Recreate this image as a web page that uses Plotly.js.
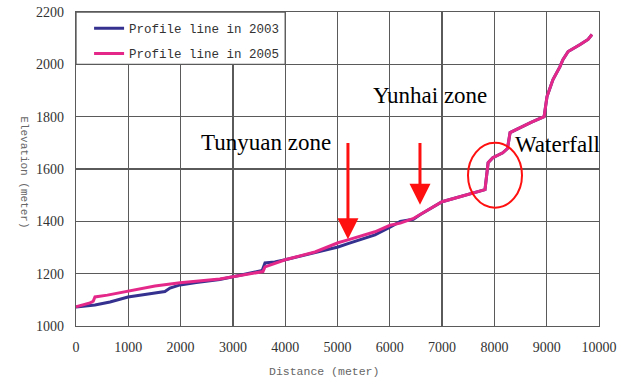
<!DOCTYPE html>
<html>
<head>
<meta charset="utf-8">
<script src="https://cdn.plot.ly/plotly-3.0.1.min.js"></script>
<style>html,body{margin:0;padding:0;background:#fff;}#chart{width:627px;height:381px;}</style>
</head>
<body>
<div id="chart"></div>
<script>
// Distance (m) and elevation (m)
const dist2003 = [0, 200, 363, 650, 994, 1510, 1700, 1797, 1990, 2300, 2750, 3000, 3480, 3560, 3614, 3800, 4000, 4570, 5010, 5200, 5717, 6004, 6200, 6450, 6500, 6577, 7000, 7340, 7820, 7880, 7970, 8160, 8250, 8300, 8500, 8700, 8950, 9006, 9120, 9254, 9310, 9410, 9640, 9790, 9866];
const elev2003 = [1073, 1076, 1080, 1092, 1111, 1126, 1132, 1145, 1157, 1166, 1178, 1188, 1207, 1212, 1241, 1245, 1253, 1279, 1302, 1315, 1348, 1378, 1400, 1408, 1415, 1425, 1475, 1494, 1521, 1624, 1643, 1662, 1678, 1739, 1760, 1778, 1800, 1877, 1942, 1991, 2018, 2049, 2076, 2095, 2114];

const dist2005 = [0, 150, 268, 330, 363, 600, 994, 1510, 1990, 2400, 2750, 3000, 3480, 3575, 3614, 3800, 4000, 4570, 5010, 5200, 5717, 6004, 6200, 6443, 6577, 7000, 7340, 7820, 7880, 7970, 8160, 8250, 8300, 8500, 8700, 8950, 9006, 9120, 9254, 9310, 9410, 9640, 9790, 9866];
const elev2005 = [1073, 1080, 1088, 1095, 1111, 1118, 1134, 1153, 1165, 1172, 1180, 1188, 1205, 1208, 1226, 1240, 1253, 1283, 1318, 1329, 1360, 1385, 1393, 1410, 1425, 1475, 1494, 1521, 1624, 1643, 1662, 1678, 1739, 1760, 1778, 1800, 1877, 1942, 1991, 2018, 2049, 2076, 2095, 2114];

const seriesNames = ["Profile line in 2003", "Profile line in 2005"];
const xTicks = [0, 1000, 2000, 3000, 4000, 5000, 6000, 7000, 8000, 9000, 10000];
const yTicks = [1000, 1200, 1400, 1600, 1800, 2000, 2200];

const zoneLabels = ["Tunyuan zone", "Yunhai zone", "Waterfall"];

const traces = [
  {x: dist2003, y: elev2003, mode: "lines", name: seriesNames[0], legendgroup: "a",
   line: {color: "#34318f", width: 3}},
  {x: dist2005, y: elev2005, mode: "lines", name: seriesNames[1], legendgroup: "b",
   line: {color: "#e4288a", width: 3}}
];

const monoFont = "Liberation Mono, DejaVu Sans Mono, monospace";
const serifFont = "Liberation Serif, Times New Roman, serif";

const axisCommon = {
  showgrid: true, gridcolor: "#5a5a5a", gridwidth: 1.3,
  showline: true, linecolor: "#5a5a5a", linewidth: 1.3, mirror: true,
  zeroline: false, ticks: "",
  tickfont: {family: serifFont, size: 14, color: "#333"}
};

const layout = {
  width: 627, height: 381,
  margin: {l: 76, r: 28, t: 12, b: 55},
  paper_bgcolor: "#fff", plot_bgcolor: "#fff",
  showlegend: true,
  legend: {
    x: 0.025, y: 0.995, xanchor: "left", yanchor: "top",
    bgcolor: "rgba(0,0,0,0)", borderwidth: 0,
    traceorder: "grouped", tracegroupgap: 6,
    font: {family: monoFont, size: 12.5, color: "#333"}
  },
  xaxis: Object.assign({}, axisCommon, {
    range: [0, 10000], tickvals: xTicks, ticktext: xTicks.map(String),
    ticklabelstandoff: 8
  }),
  yaxis: Object.assign({}, axisCommon, {
    range: [1000, 2200], tickvals: yTicks, ticktext: yTicks.map(String),
    ticklabelstandoff: 8
  }),
  shapes: [
    {type: "rect", xref: "x", yref: "y", x0: 0, x1: 4000, y0: 2000, y1: 2200,
     fillcolor: "#fff", line: {color: "#5a5a5a", width: 1.3}, layer: "above"},
    {type: "circle", xref: "x", yref: "y", x0: 7495, x1: 8528, y0: 1452, y1: 1700,
     line: {color: "#ff1010", width: 2}, layer: "above"}
  ],
  annotations: [
    {xref: "paper", yref: "paper", x: -0.115, y: 0.49, text: "Elevation (meter)", textangle: 90,
     showarrow: false, font: {family: monoFont, size: 11, color: "#666"}},
    {xref: "paper", yref: "paper", x: 0.474, y: -0.145, yanchor: "middle", text: "Distance (meter)",
     showarrow: false, font: {family: monoFont, size: 11.5, color: "#666"}},
    {xref: "x", yref: "y", x: 3640, y: 1700, text: zoneLabels[0], showarrow: false,
     font: {family: serifFont, size: 23, color: "#000"}},
    {xref: "x", yref: "y", x: 6760, y: 1880, text: zoneLabels[1], showarrow: false,
     font: {family: serifFont, size: 23, color: "#000"}},
    {xref: "x", yref: "y", x: 9200, y: 1693, text: zoneLabels[2], showarrow: false,
     font: {family: serifFont, size: 23, color: "#000"}},
    {xref: "x", yref: "y", x: 5200, y: 1332, axref: "x", ayref: "y", ax: 5200, ay: 1705,
     text: "", showarrow: true, arrowhead: 2, arrowsize: 1.4, arrowwidth: 3, arrowcolor: "#ff1010"},
    {xref: "x", yref: "y", x: 6577, y: 1463, axref: "x", ayref: "y", ax: 6577, ay: 1705,
     text: "", showarrow: true, arrowhead: 2, arrowsize: 1.4, arrowwidth: 3, arrowcolor: "#ff1010"}
  ]
};

Plotly.newPlot("chart", traces, layout, {staticPlot: true, displayModeBar: false});
</script>
</body>
</html>
